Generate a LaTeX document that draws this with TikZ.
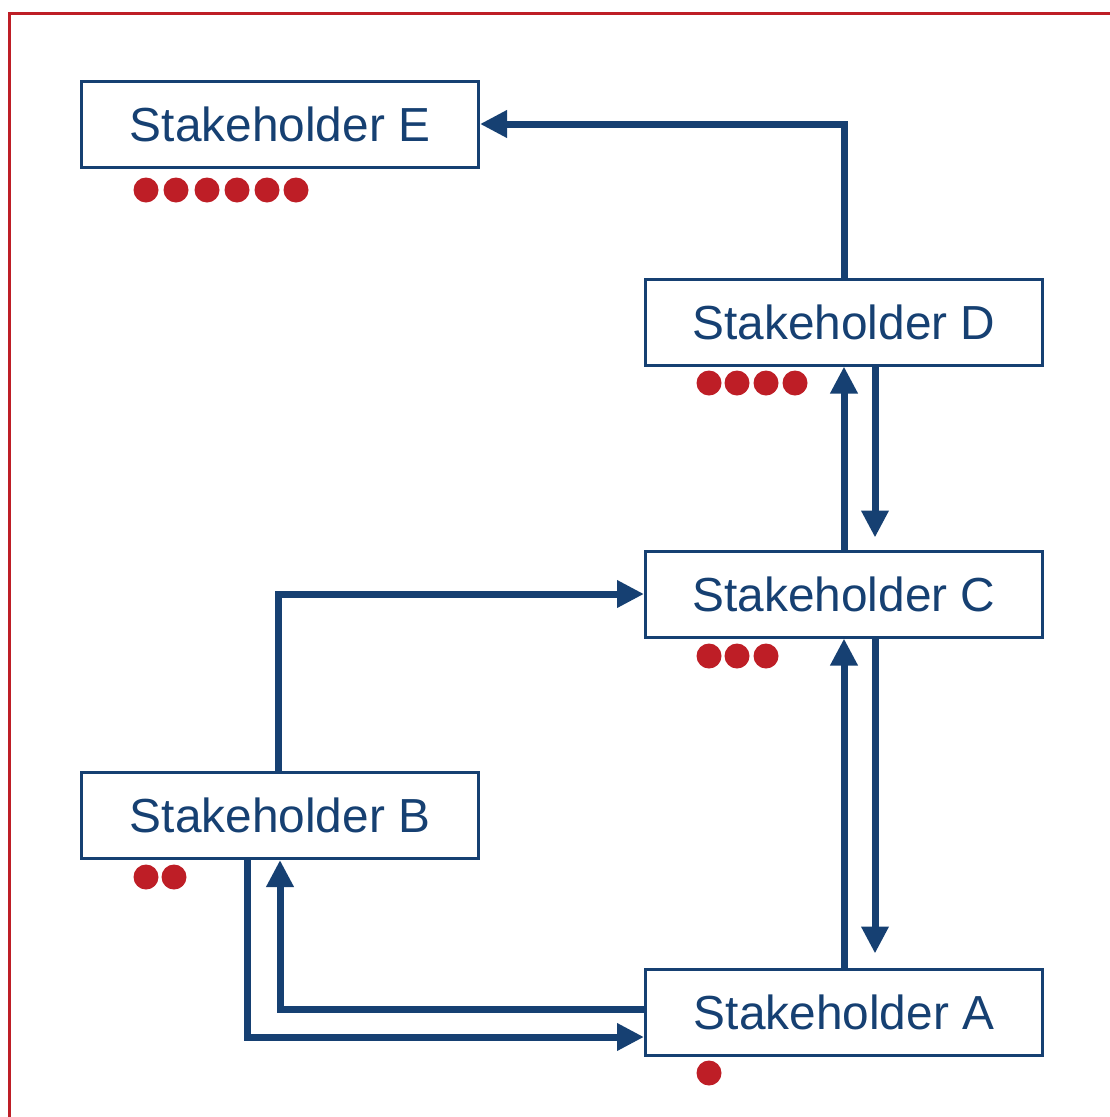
\documentclass[tikz,border=0pt]{standalone}
\usepackage{fontspec}
\setmainfont{Liberation Sans}
\usetikzlibrary{arrows.meta}
\definecolor{sblue}{RGB}{22,64,114}
\definecolor{sred}{RGB}{190,30,38}
\begin{document}
\begin{tikzpicture}[x=1pt,y=-1pt,
  sbox/.style={draw=sblue,line width=3pt,fill=white,minimum width=397pt,minimum height=86pt,inner sep=0pt,text=sblue,font=\fontsize{47.8}{56}\selectfont},
  conn/.style={draw=sblue,line width=7pt,line join=miter,-{Triangle[width=26pt,length=27pt]}},
  dot/.style={circle,fill=sred,minimum size=25pt,inner sep=0pt}]
\useasboundingbox (0,0) rectangle (1110,1117);
\clip (0,0) rectangle (1110,1117);
\draw[sred,line width=3pt] (9,13) rectangle (1130,1140);
% boxes
\node[sbox] (E) at (280,124) {Stakeholder E};
\node[sbox] (D) at (844,322) {Stakeholder D};
\node[sbox] (C) at (844,594) {Stakeholder C};
\node[sbox] (B) at (280,815.5) {Stakeholder B};
\node[sbox] (A) at (844,1012) {Stakeholder A};
% connectors
\draw[conn] (D.north) |- (E.east);
\draw[conn] (C.north) -- (D.south);
\draw[conn,shorten >=12pt] ([xshift=31pt]D.south) -- ([xshift=31pt]C.north);
\draw[conn] (A.north) -- (C.south);
\draw[conn,shorten >=14pt] ([xshift=31pt]C.south) -- ([xshift=31pt]A.north);
\draw[conn] ([xshift=-2pt]B.north) |- (C.west);
\draw[conn] ([yshift=3pt]A.west) -| (B.south);
\draw[conn] ([xshift=-33pt]B.south) |- ([yshift=-25pt]A.west);
% dots
\foreach \i/\x in {1/146,2/176,3/207,4/237,5/267,6/296} \node[dot] (e\i) at (\x,190) {};
\foreach \i/\x in {1/709,2/737,3/766,4/795} \node[dot] (d\i) at (\x,383) {};
\foreach \i/\x in {1/709,2/737,3/766} \node[dot] (c\i) at (\x,656) {};
\foreach \i/\x in {1/146,2/174} \node[dot] (b\i) at (\x,877) {};
\node[dot] (a1) at (709,1073) {};
\end{tikzpicture}
\end{document}
